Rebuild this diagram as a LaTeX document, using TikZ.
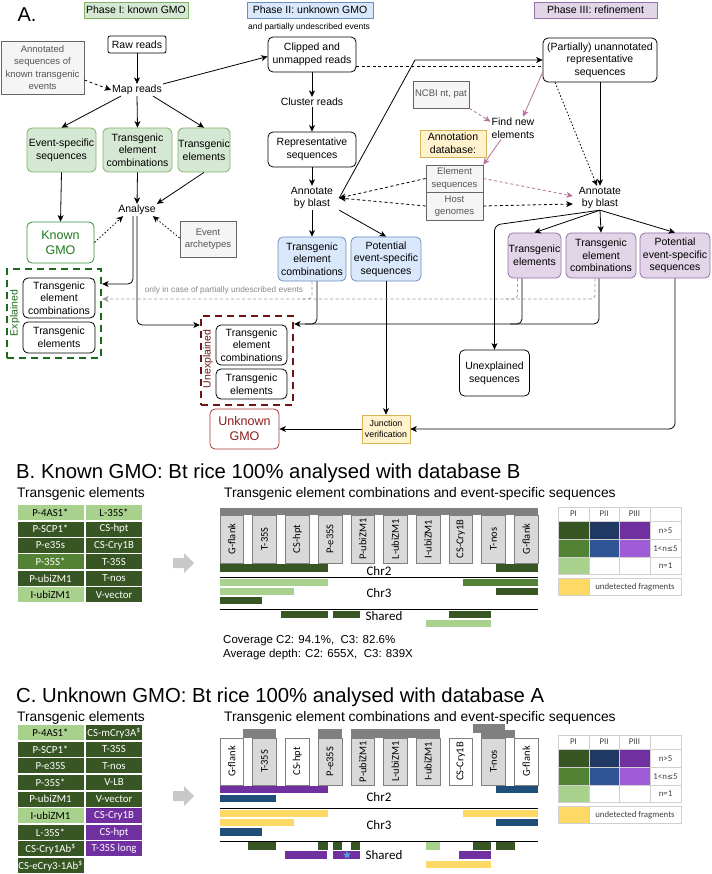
\documentclass[tikz,border=0pt]{standalone}
\usepackage{fontspec}
\setmainfont{Liberation Sans}
\newfontfamily\carl{Carlito}
\newfontfamily\djv{DejaVu Sans}
\usetikzlibrary{arrows.meta,calc,shapes.geometric}
\definecolor{gfill}{HTML}{D5E8D4}\definecolor{gline}{HTML}{82B366}
\definecolor{bfill}{HTML}{DAE8FC}\definecolor{bline}{HTML}{6C8EBF}
\definecolor{pfill}{HTML}{E1D5E7}\definecolor{pline}{HTML}{9673A6}
\definecolor{grfill}{HTML}{F5F5F5}\definecolor{grline}{HTML}{666666}\definecolor{grtext}{HTML}{555555}
\definecolor{yfill}{HTML}{FFF2CC}\definecolor{yline}{HTML}{D6B656}
\definecolor{kgreen}{HTML}{3A8F3A}\definecolor{ktext}{HTML}{1E7A1E}
\definecolor{expc}{HTML}{1B6B1B}\definecolor{unxc}{HTML}{6E1414}
\definecolor{ugline}{HTML}{A83A3A}\definecolor{ugtext}{HTML}{8A1F1F}
\definecolor{pinkarr}{HTML}{B5739D}\definecolor{graydash}{HTML}{999999}
\definecolor{darkG}{HTML}{375623}\definecolor{medG}{HTML}{548235}\definecolor{lightG}{HTML}{A9D18E}
\definecolor{navyB}{HTML}{1F4E79}\definecolor{navyL}{HTML}{203864}\definecolor{blueM}{HTML}{2F5597}
\definecolor{purp}{HTML}{7030A0}\definecolor{purpL}{HTML}{A05CD6}
\definecolor{yel}{HTML}{FFD966}\definecolor{genegray}{HTML}{D9D9D9}\definecolor{bargray}{HTML}{808080}
\definecolor{gridc}{HTML}{D0D0D0}\definecolor{legtext}{HTML}{404040}\definecolor{starblue}{HTML}{4AA3DF}
\definecolor{arrgray}{HTML}{C8C8C8}
\tikzset{
 lbl/.style={font=\fontsize{10.5}{12.6}\selectfont, align=center, inner sep=1pt},
 phase/.style={lbl, line width=0.7pt, inner sep=0pt},
 rbox/.style={lbl, draw, rounded corners=5pt, line width=0.8pt, inner sep=0pt},
 gbox/.style={rbox, fill=gfill, draw=gline},
 bbox/.style={rbox, fill=bfill, draw=bline},
 pbox/.style={rbox, fill=pfill, draw=pline},
 grbox/.style={draw=grline, fill=grfill, text=grtext, align=center, font=\fontsize{9.5}{12.3}\selectfont, line width=0.7pt, inner sep=0pt},
 ybox/.style={draw=yline, fill=yfill, align=center, inner sep=0pt, line width=0.7pt},
 arr/.style={draw, line width=0.8pt, -{Stealth[length=6.5pt,width=6pt,inset=1.8pt]}},
 dsh/.style={dash pattern=on 3pt off 2.5pt},
 dotl/.style={dash pattern=on 1.5pt off 2pt},
 plain/.style={draw, line width=0.8pt},
 genelbl/.style={rotate=90, font=\carl\fontsize{10.5}{12}\selectfont, inner sep=0pt},
 trklbl/.style={font=\carl\fontsize{13}{15}\selectfont, inner sep=0pt},
 cellf/.style={inner sep=0pt, anchor=north west, font=\carl\fontsize{10.8}{13}\selectfont},
 legf/.style={font=\carl\fontsize{8.8}{10}\selectfont, text=legtext, inner sep=0pt},
}
\newcommand{\tcell}[7]{\node[cellf, fill=#5, text=#6, minimum width=#4, minimum height=15] (#1) at (#2,#3) {#7};}
\newcommand{\trk}[5]{\fill[#1] (#2,#3) rectangle (#4,#5);}
\newcommand{\lcell}[5]{\filldraw[fill=#5, draw=gridc, line width=0.6pt] (#1,#2) rectangle (#3,#4);}
\newcommand{\legendtab}[2]{%
 \begin{scope}[shift={(0,#2)}]
 \lcell{558}{0}{589}{14}{white}\lcell{589}{0}{619}{14}{white}\lcell{619}{0}{650}{14}{white}\lcell{650}{0}{681}{14}{white}
 \node[legf] (#1pi) at (573.5,7) {PI};
 \node[legf] (#1pii) at (604,7) {PII};
 \node[legf] (#1piii) at (634.5,7) {PIII};
 \lcell{558}{14}{589}{32.5}{darkG}\lcell{589}{14}{619}{32.5}{navyL}\lcell{619}{14}{650}{32.5}{purp}\lcell{650}{14}{681}{32.5}{white}
 \node[legf] (#1na) at (665.5,23.25) {n>5};
 \lcell{558}{32.5}{589}{50}{medG}\lcell{589}{32.5}{619}{50}{blueM}\lcell{619}{32.5}{650}{50}{purpL}\lcell{650}{32.5}{681}{50}{white}
 \node[legf] (#1nb) at (665.5,41.25) {1<n{\djv\fontsize{7.5}{9}\selectfont ≤}5};
 \lcell{558}{50}{589}{67}{lightG}\lcell{589}{50}{619}{67}{white}\lcell{619}{50}{650}{67}{white}\lcell{650}{50}{681}{67}{white}
 \node[legf] (#1nc) at (665.5,58.5) {n=1};
 \lcell{558}{71.5}{589}{88.5}{yel}\lcell{589}{71.5}{681}{88.5}{white}
 \node[legf] (#1und) at (635,80) {undetected fragments};
 \end{scope}}
\begin{document}
\begin{tikzpicture}[x=1pt,y=-1pt]
\useasboundingbox (0,0) rectangle (711,874);
\fill[white] (0,0) rectangle (711,874);
% ================= A =================
\node[font=\fontsize{20}{24}\selectfont, inner sep=0pt] (lblA) at (27,15) {A.};
\node[phase, draw=gline, fill=gfill, minimum width=104, minimum height=16] (ph1) at (136,10) {Phase I: known GMO};
\node[phase, draw=bline, fill=bfill, minimum width=126, minimum height=16] (ph2) at (310,10) {Phase II: unknown GMO};
\node[phase, draw=pline, fill=pfill, minimum width=123, minimum height=16] (ph3) at (595.5,10) {Phase III: refinement};
\node[lbl, font=\fontsize{8.5}{10}\selectfont] (undesc) at (309,27) {and partially undescribed events};
% dashed group boxes
\node[draw=expc, line width=2.3pt, dash pattern=on 7pt off 5pt, minimum width=94, minimum height=89] (expl) at (54,313.5) {};
\node[lbl, rotate=90, text=expc] (expllbl) at (15,313) {Explained};
\node[draw=unxc, line width=2.3pt, dash pattern=on 7pt off 5pt, minimum width=92, minimum height=89] (unxbox) at (247,360.5) {};
\node[lbl, rotate=90, text=unxc] (unxlbl) at (208,359) {Unexplained};
% phase I
\node[grbox, minimum width=83, minimum height=53] (annot) at (42.5,67.5) {Annotated\\sequences of\\known transgenic\\events};
\node[rbox, rounded corners=2pt, minimum width=58, minimum height=17] (raw) at (137,44.5) {Raw reads};
\node[lbl] (map) at (137,90) {Map reads};
\node[gbox, minimum width=69, minimum height=44] (esseq) at (61.5,150) {Event-specific\\sequences};
\node[gbox, minimum width=69, minimum height=44] (tec1) at (137.5,150) {Transgenic\\element\\combinations};
\node[gbox, minimum width=52, minimum height=44] (te1) at (204,150) {Transgenic\\elements};
\node[lbl] (analyse) at (137,210) {Analyse};
\node[rbox, draw=kgreen, text=ktext, font=\fontsize{12.5}{15}\selectfont, minimum width=67, minimum height=41] (known) at (60.5,242.5) {Known\\GMO};
\node[grbox, minimum width=56, minimum height=36] (arche) at (208,239) {Event\\archetypes};
\node[rbox, minimum width=72, minimum height=40] (exptec) at (59,298) {Transgenic\\element\\combinations};
\node[rbox, minimum width=72, minimum height=31] (expte) at (59,337.5) {Transgenic\\elements};
% phase II
\node[rbox, minimum width=88, minimum height=35] (clipped) at (312,54.5) {Clipped and\\unmapped reads};
\node[lbl] (cluster) at (312,102) {Cluster reads};
\node[rbox, minimum width=88, minimum height=35] (repseq) at (312,149.5) {Representative\\sequences};
\node[lbl, inner xsep=6pt] (ann1) at (312,198) {Annotate\\by blast};
\node[bbox, minimum width=68, minimum height=44] (btec) at (312,259) {Transgenic\\element\\combinations};
\node[bbox, minimum width=70, minimum height=44] (bpot) at (386,259) {Potential\\event-specific\\sequences};
\node[rbox, minimum width=71, minimum height=40] (unxtec) at (251.5,345) {Transgenic\\element\\combinations};
\node[rbox, minimum width=71, minimum height=30] (unxte) at (251.5,384) {Transgenic\\elements};
\node[rbox, draw=ugline, text=ugtext, font=\fontsize{12.5}{15}\selectfont, minimum width=69, minimum height=40] (unknown) at (244.5,429) {Unknown\\GMO};
\node[ybox, font=\fontsize{8.8}{11}\selectfont, minimum width=48, minimum height=28] (junction) at (386,429) {Junction\\verification};
% phase III
\node[rbox, minimum width=114, minimum height=44] (unann) at (600,60) {(Partially) unannotated\\representative\\sequences};
\node[grbox, minimum width=56, minimum height=27] (ncbi) at (441,94.5) {NCBI nt, pat};
\node[lbl] (findnew) at (513,128) {Find new\\elements};
\node[ybox, font=\fontsize{10.5}{12.6}\selectfont, minimum width=66, minimum height=27] (annodb) at (453,143.5) {Annotation\\database:};
\node[grbox, minimum width=57, minimum height=27] (elseq) at (454.5,178.5) {Element\\sequences};
\node[grbox, minimum width=57, minimum height=28] (host) at (454.5,206) {Host\\genomes};
\node[lbl, inner xsep=6pt] (ann2) at (600,198) {Annotate\\by blast};
\node[pbox, minimum width=53, minimum height=45] (ptE) at (534.5,255.5) {Transgenic\\elements};
\node[pbox, minimum width=70, minimum height=45] (ptec) at (601,255.5) {Transgenic\\element\\combinations};
\node[pbox, minimum width=70, minimum height=45] (ppot) at (675,255.5) {Potential\\event-specific\\sequences};
\node[rbox, minimum width=70, minimum height=46] (unxseq) at (494.5,373) {Unexplained\\sequences};
\node[lbl, text=graydash!90!black, font=\fontsize{8.3}{10}\selectfont] (onlycase) at (224,290) {only in case of partially undescribed events};
% connectors phase I
\draw[arr] (raw) -- (map);
\draw[arr, dsh] ($(annot.east)+(0,12.5)$) -- (map.west);
\draw[arr] ($(map.south)+(-16,0)$) -- (esseq.north);
\draw[arr] (map.south) -- (tec1.north);
\draw[arr] ($(map.south)+(16,0)$) -- (te1.north);
\draw[arr] ($(map.east)+(0,-6)$) -- ($(clipped.west)+(0,2)$);
\draw[arr] (tec1.south) -- (analyse.north);
\draw[arr] (te1.south) -- (analyse.north east);
\draw[arr] (esseq.south) -- (known.north);
\draw[arr, dotl] (known.east) -- ($(analyse.south west)+(6,0)$);
\draw[arr, dotl] ($(arche.west)+(0,-1)$) -- ($(analyse.south east)+(-4,0)$);
\draw[arr, rounded corners=5pt] ($(analyse.south)+(-4,0)$) |- ($(expl.east)+(0,-29.5)$);
\draw[arr, rounded corners=5pt] (analyse.south) |- ($(unxbox.west)+(0,-35.5)$);
% phase II
\draw[arr] (clipped) -- (cluster);
\draw[arr] (cluster) -- (repseq);
\draw[arr] (repseq) -- (ann1);
\draw[plain, dsh] ($(clipped.east)+(0,11.5)$) -- ($(unann.west)+(0,6)$);
\draw[arr] (ann1.east) -- (415,60) -- (unann.west);
\draw[arr, dsh] (elseq.west) -- (ann1.east);
\draw[arr, dsh] (host.west) -- (ann1.east);
\draw[arr] (ann1.south) -- (btec.north);
\draw[arr] (ann1.south east) -- (bpot.north);
\draw[arr] (bpot.south) -- (junction.north);
\draw[arr] (junction.west) -- (unknown.east);
% phase III
\draw[arr] (unann.south) -- (ann2.north);
\draw[arr, dotl] ($(unann.south)+(-45,0)$) -- ($(ann2.north)+(-3,0)$);
\draw[arr, draw=pinkarr] ($(unann.south west)+(0,-10)$) -- ($(findnew.north)+(10,0)$);
\draw[arr, draw=pinkarr, dsh] (ncbi.south east) -- ($(findnew.north west)+(0,5)$);
\draw[arr, draw=pinkarr] ($(findnew.south)+(-12,0)$) -- (elseq.north east);
\draw[arr, draw=pinkarr, dsh] (elseq.east) -- ($(ann2.west)+(0,-2)$);
\draw[arr, dsh] (host.east) -- ($(ann2.west)+(0,6)$);
\draw[arr] (ann2.south) -- (ptE.north);
\draw[arr] (ann2.south) -- (ptec.north);
\draw[arr] (ann2.south) -- (ppot.north);
\draw[arr, rounded corners=6pt] (ann2.south) -- (494.5,225) -- (unxseq.north);
\draw[arr, rounded corners=6pt] (ppot.south) |- (junction.east);
% gray dashed (partially undescribed)
\draw[arr, draw=graydash, dsh, rounded corners=4pt] ($(ptec.south)+(-6,0)$) |- ($(expl.east)+(0,-14.5)$);
\draw[plain, draw=graydash, dsh, rounded corners=4pt] ($(ptE.south)+(-17,0)$) |- (505,299);
\draw[plain, draw=graydash, dsh, rounded corners=4pt] (btec.south) |- (300,299);
% black lines to unexplained
\draw[arr, rounded corners=5pt] ($(ptec.south)+(-2,0)$) |- ($(unxbox.east)+(0,-36.5)$);
\draw[plain, rounded corners=5pt] ($(ptE.south)+(-12.5,0)$) |- (510,324);
\draw[plain, rounded corners=5pt] ($(btec.south)+(5,0)$) |- (305,324);
% ================= B =================
\node[anchor=west, font=\fontsize{20.3}{24}\selectfont, inner sep=0pt] (titleB) at (16,473) {B. Known GMO: Bt rice 100\% analysed with database B};
\node[anchor=west, font=\fontsize{13.8}{16}\selectfont, inner sep=0pt] (teB) at (17,494) {Transgenic elements};
\node[anchor=west, font=\fontsize{13.8}{16}\selectfont, inner sep=0pt] (tcB) at (224,494) {Transgenic element combinations and event-specific sequences};
\tcell{b11}{17.3}{505}{66}{lightG}{black}{P-4AS1*}
\tcell{b12}{86}{505}{55.7}{lightG}{black}{L-35S*}
\tcell{b21}{17.3}{521.4}{66}{darkG}{white}{P-SCP1*}
\tcell{b22}{86}{521.4}{55.7}{darkG}{white}{CS-hpt}
\tcell{b31}{17.3}{537.8}{66}{darkG}{white}{P-e35s}
\tcell{b32}{86}{537.8}{55.7}{darkG}{white}{CS-Cry1B}
\tcell{b41}{17.3}{554.2}{66}{medG}{white}{P-35S*}
\tcell{b42}{86}{554.2}{55.7}{darkG}{white}{T-35S}
\tcell{b51}{17.3}{570.6}{66}{darkG}{white}{P-ubiZM1}
\tcell{b52}{86}{570.6}{55.7}{darkG}{white}{T-nos}
\tcell{b61}{17.3}{587}{66}{lightG}{black}{I-ubiZM1}
\tcell{b62}{86}{587}{55.7}{darkG}{white}{V-vector}
\fill[arrgray] (173,558) -- (184,558) -- (184,553) -- (194,563) -- (184,573) -- (184,568) -- (173,568) -- cycle;
\fill[bargray] (220,508) rectangle (538,515);
\foreach \i/\lab in {0/G-flank,1/T-35S,2/CS-hpt,3/P-e35S,4/P-ubiZM1,5/L-ubiZM1,6/I-ubiZM1,7/CS-Cry1B,8/T-nos,9/G-flank}{
  \pgfmathsetmacro\gx{220+\i*32.7}
  \filldraw[fill=genegray, draw=bargray, line width=0.6pt] (\gx,515) rectangle ++(23.7,48);
  \node[genelbl] (gB\i) at ({\gx+11.85},539) {\lab};
}
\trk{darkG}{220}{564}{328}{572}\trk{darkG}{496}{564}{538}{572}
\draw[line width=0.7pt] (220,577) -- (538,577);
\trk{lightG}{220}{578.5}{328}{586}\trk{medG}{463}{578.5}{538}{586}
\trk{lightG}{220}{588}{294}{595}\trk{darkG}{496}{588}{538}{595}
\trk{darkG}{220}{597}{262}{604}
\draw[line width=0.7pt] (220,609) -- (538,609);
\trk{darkG}{281}{611}{328}{618}\trk{darkG}{333}{611}{360}{618}\trk{darkG}{449}{611}{491}{618}
\trk{lightG}{426}{620}{491}{627}
\node[trklbl, fill=white, inner xsep=1pt] (chr2B) at (379,571) {Chr2};
\node[trklbl] (chr3B) at (379,593) {Chr3};
\node[trklbl] (shB) at (384,616) {Shared};
\node[anchor=west, font=\fontsize{11.5}{14}\selectfont, inner sep=0pt] (covB) at (223,641) {Coverage C2: 94.1\%,\ \ C3: 82.6\%};
\node[anchor=west, font=\fontsize{11.5}{14}\selectfont, inner sep=0pt] (depB) at (223,655) {Average depth: C2: 655X,\ \ C3: 839X};
\legendtab{lb}{507}
% ================= C =================
\node[anchor=west, font=\fontsize{20.3}{24}\selectfont, inner sep=0pt] (titleC) at (16,697) {C. Unknown GMO: Bt rice 100\% analysed with database A};
\node[anchor=west, font=\fontsize{13.8}{16}\selectfont, inner sep=0pt] (teC) at (17,718) {Transgenic elements};
\node[anchor=west, font=\fontsize{13.8}{16}\selectfont, inner sep=0pt] (tcC) at (224,718) {Transgenic element combinations and event-specific sequences};
\tcell{c11}{17.3}{725}{66}{lightG}{black}{P-4AS1*}
\tcell{c12}{86}{725}{55.7}{darkG}{white}{CS-mCry3A\textsuperscript{\$}}
\tcell{c21}{17.3}{741.6}{66}{darkG}{white}{P-SCP1*}
\tcell{c22}{86}{741.6}{55.7}{darkG}{white}{T-35S}
\tcell{c31}{17.3}{758.2}{66}{darkG}{white}{P-e35S}
\tcell{c32}{86}{758.2}{55.7}{darkG}{white}{T-nos}
\tcell{c41}{17.3}{774.8}{66}{darkG}{white}{P-35S*}
\tcell{c42}{86}{774.8}{55.7}{darkG}{white}{V-LB}
\tcell{c51}{17.3}{791.4}{66}{darkG}{white}{P-ubiZM1}
\tcell{c52}{86}{791.4}{55.7}{darkG}{white}{V-vector}
\tcell{c61}{17.3}{808}{66}{lightG}{black}{I-ubiZM1}
\tcell{c62}{86}{808}{55.7}{purp}{white}{CS-Cry1B}
\tcell{c71}{17.3}{824.6}{66}{darkG}{white}{L-35S*}
\tcell{c72}{86}{824.6}{55.7}{purp}{white}{CS-hpt}
\tcell{c81}{17.3}{841.2}{66}{darkG}{white}{CS-Cry1Ab\textsuperscript{\$}}
\tcell{c82}{86}{841.2}{55.7}{purp}{white}{T-35S long}
\tcell{c91}{17.3}{857.8}{66}{darkG}{white}{CS-eCry3-1Ab\textsuperscript{\$}}
\fill[arrgray] (173,791) -- (184,791) -- (184,786) -- (194,796) -- (184,806) -- (184,801) -- (173,801) -- cycle;
\fill[bargray] (243,729) rectangle (276,738);
\fill[bargray] (318,729) rectangle (342,738);
\fill[bargray] (351,729) rectangle (440,738);
\fill[bargray] (473,724) rectangle (505,733);
\fill[bargray] (481,730) rectangle (515,738);
\foreach \i/\lab/\f in {0/G-flank/white,1/T-35S/genegray,2/CS-hpt/white,3/P-e35S/genegray,4/P-ubiZM1/genegray,5/L-ubiZM1/genegray,6/I-ubiZM1/genegray,7/CS-Cry1B/white,8/T-nos/genegray,9/G-flank/white}{
  \pgfmathsetmacro\gx{220+\i*32.7}
  \filldraw[fill=\f, draw=bargray, line width=0.6pt] (\gx,738) rectangle ++(23.7,47);
  \node[genelbl] (gC\i) at ({\gx+11.85},761.5) {\lab};
}
\trk{purp}{220}{786}{328}{793}\trk{navyB}{496}{786}{538}{793}
\trk{navyB}{220}{795}{276}{802}
\draw[line width=0.7pt] (220,808) -- (538,808);
\trk{yel}{220}{809.5}{328}{817}\trk{yel}{463}{809.5}{538}{817}
\trk{yel}{220}{818.5}{294}{826}\trk{navyB}{496}{818.5}{538}{826}
\trk{navyB}{220}{828}{262}{836}
\draw[line width=0.7pt] (220,841) -- (538,841);
\trk{darkG}{248}{842}{276}{850}\trk{darkG}{318}{842}{328}{850}\trk{darkG}{333}{842}{342}{850}\trk{darkG}{351}{842}{360}{850}
\trk{lightG}{426}{842}{440}{850}\trk{darkG}{473}{842}{491}{850}\trk{darkG}{496}{842}{515}{850}
\trk{purp}{285}{851}{327}{859}\trk{purp}{333}{851}{360}{859}\trk{purp}{459}{851}{491}{859}
\trk{yel}{426}{861}{491}{868}
\node[star, star points=5, star point ratio=2.2, fill=starblue, inner sep=0pt, minimum size=8] (cstar) at (347,855) {};
\node[trklbl] (chr2C) at (379,797) {Chr2};
\node[trklbl] (chr3C) at (379,825) {Chr3};
\node[trklbl] (shC) at (384,855) {Shared};
\legendtab{lc}{735}
\end{tikzpicture}
\end{document}
